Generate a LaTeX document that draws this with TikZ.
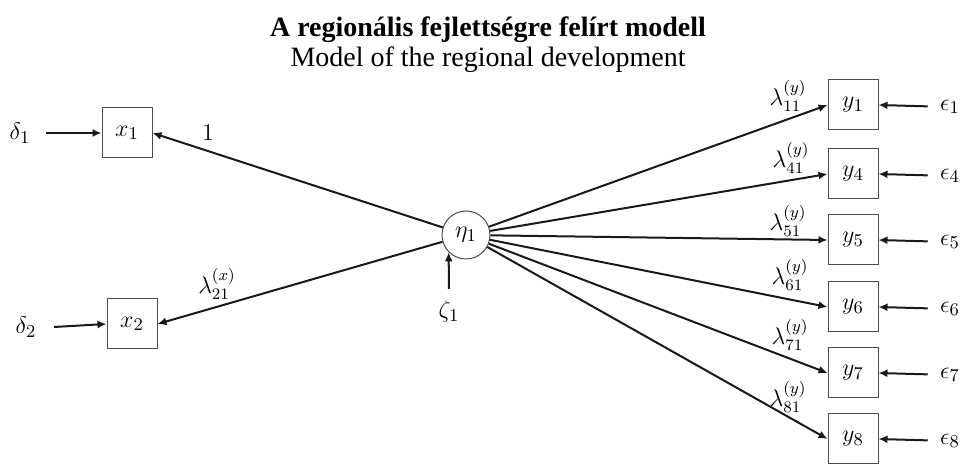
\documentclass[tikz,border=0pt]{standalone}
\usepackage{fontspec}
\setmainfont{Liberation Serif}
\usepackage{amsmath}
\usetikzlibrary{arrows.meta, positioning, calc}

\begin{document}
\begin{tikzpicture}[x=0.5pt, y=-0.5pt,
      var/.style={rectangle, draw=black!70, line width=0.5pt,
                  minimum size=25pt, inner sep=0pt, font=\fontsize{13}{15}\selectfont},
      lat/.style={circle, draw=black!70, line width=0.5pt,
                  minimum size=24pt, inner sep=0pt, font=\fontsize{13}{15}\selectfont},
      err/.style={inner sep=1pt, font=\fontsize{13}{15}\selectfont},
      lbl/.style={inner sep=0pt, font=\fontsize{12}{14}\selectfont},
      arr/.style={-{Latex[length=4.5pt,width=4pt]}, line width=1pt, draw=black!90}
    ]
    \useasboundingbox (0,0) rectangle (960,464);
    % title
    \node[font=\fontsize{14}{16}\selectfont\bfseries] (title) at (488,30) {A regionális fejlettségre felírt modell};
    \node[font=\fontsize{14}{16}\selectfont] (subtitle) at (488,60) {Model of the regional development};
    % latent variable
    \node[lat] (eta) at (466,235) {$\eta_1$};
    \node[err] (z1) at (449,312) {$\zeta_1$};
    % exogenous side
    \node[var] (x1) at (127,133) {$x_1$};
    \node[var] (x2) at (132,324) {$x_2$};
    \node[err] (d1) at (20,133) {$\delta_1$};
    \node[err] (d2) at (26,327) {$\delta_2$};
    % endogenous side
    \node[var] (y1) at (853,105) {$y_1$};
    \node[var] (y4) at (853,174) {$y_4$};
    \node[var] (y5) at (853,240) {$y_5$};
    \node[var] (y6) at (853,307) {$y_6$};
    \node[var] (y7) at (853,373) {$y_7$};
    \node[var] (y8) at (853,439) {$y_8$};
    \node[err] (e1) at (950,107) {$\epsilon_1$};
    \node[err] (e4) at (950,176) {$\epsilon_4$};
    \node[err] (e5) at (950,242) {$\epsilon_5$};
    \node[err] (e6) at (950,309) {$\epsilon_6$};
    \node[err] (e7) at (950,375) {$\epsilon_7$};
    \node[err] (e8) at (950,441) {$\epsilon_8$};
    % loadings
    \node[lbl] (l1) at (208,133) {$1$};
    \node[lbl] (l21) at (217,284) {$\lambda_{21}^{(x)}$};
    \node[lbl] (l11) at (788,96) {$\lambda_{11}^{(y)}$};
    \node[lbl] (l41) at (791,158) {$\lambda_{41}^{(y)}$};
    \node[lbl] (l51) at (788,221) {$\lambda_{51}^{(y)}$};
    \node[lbl] (l61) at (790,275) {$\lambda_{61}^{(y)}$};
    \node[lbl] (l71) at (790,335) {$\lambda_{71}^{(y)}$};
    \node[lbl] (l81) at (788,397) {$\lambda_{81}^{(y)}$};
    % arrows
    \draw[arr] (eta) -- (x1.east);
    \draw[arr] (eta) -- (x2.east);
    \draw[arr] (d1) ++(26,0) -- (x1.west);
    \draw[arr] (d2) ++(28,0) -- (x2.west);
    \draw[arr, shorten <=5pt] (z1) -- (eta.225);
    \draw[arr] (eta) -- (y1.west);
    \draw[arr] (eta) -- (y4.west);
    \draw[arr] (eta) -- (y5.west);
    \draw[arr] (eta) -- (y6.west);
    \draw[arr] (eta) -- (y7.west);
    \draw[arr] (eta) -- (y8.west);
    \draw[arr, shorten <=5pt] (e1) -- (y1.east);
    \draw[arr, shorten <=5pt] (e4) -- (y4.east);
    \draw[arr, shorten <=5pt] (e5) -- (y5.east);
    \draw[arr, shorten <=5pt] (e6) -- (y6.east);
    \draw[arr, shorten <=5pt] (e7) -- (y7.east);
    \draw[arr, shorten <=5pt] (e8) -- (y8.east);
  \end{tikzpicture}
\end{document}
